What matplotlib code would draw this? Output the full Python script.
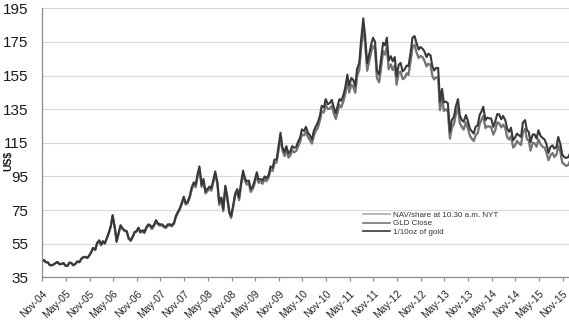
"""Gold (1/10 oz) against GLD NAV per share and GLD closing price, Nov 2004 - Jan 2016."""

import matplotlib

matplotlib.use("Agg")
import matplotlib.pyplot as plt
import pandas as pd

# Semi-monthly observations (1st and 15th of each month), US$.
FIRST_OBS, LAST_OBS = "2004-11-15", "2016-01-15"

GOLD_TENTH_OZ = [
    44.3, 45.3, 44.0,
    43.8, 42.3, 42.2, 42.8, 43.5, 44.1, 42.8, 43.0, 43.5, 42.0, 41.8, 43.8,
    43.5, 42.2, 43.0, 44.5, 44.0, 46.0, 47.0, 47.2, 46.5, 48.0, 50.0, 52.5,
    51.5, 55.5, 57.0, 54.5, 56.5, 55.3, 58.5, 61.5, 65.5, 72.0, 64.5, 56.5,
    61.5, 66.0, 64.0, 63.0, 62.5, 58.5, 57.0, 59.0, 62.0, 62.5, 64.5, 62.0,
    63.0, 62.0, 65.0, 66.5, 66.0, 64.5, 66.5, 69.0, 67.0, 66.5, 66.5, 65.5,
    65.0, 66.5, 66.5, 66.0, 67.5, 71.5, 74.0, 76.0, 79.5, 83.0, 79.0, 80.0,
    83.5, 88.5, 91.5, 90.0, 96.5, 101.0, 90.0, 93.5, 86.0, 87.5, 89.0, 88.0,
    93.0, 98.0, 91.5, 79.5, 82.5, 75.5, 89.5, 83.5, 74.0, 71.5, 78.0, 84.5,
    87.5, 82.5, 92.0, 98.5, 94.0, 92.0, 92.5, 87.5, 89.0, 92.5, 97.5, 93.0,
    93.5, 92.5, 95.0, 94.0, 96.0, 101.0, 100.0, 105.0, 105.0, 112.5, 121.0, 112.5,
    109.5, 113.0, 108.5, 110.0, 113.0, 112.0, 112.5, 115.5, 118.0, 123.0, 122.0, 124.5,
    121.0, 119.5, 117.0, 122.0, 125.0, 127.0, 131.0, 137.0, 136.0, 141.0, 138.0, 138.5,
    140.5, 136.5, 132.5, 137.0, 141.0, 140.0, 143.5, 148.0, 155.5, 149.0, 153.5, 152.5,
    148.5, 159.0, 162.5, 176.0, 189.0, 178.5, 162.5, 167.0, 173.5, 177.5, 175.0, 158.0,
    155.5, 164.0, 174.5, 173.0, 177.5, 164.0, 166.5, 163.5, 166.0, 154.5, 161.5, 162.5,
    157.5, 158.5, 161.0, 160.5, 169.0, 177.5, 178.5, 174.5, 170.5, 172.0, 171.0, 169.5,
    166.0, 168.0, 167.0, 160.5, 158.0, 159.5, 159.5, 139.5, 147.0, 139.0, 139.5, 138.5,
    121.5, 128.5, 130.5, 136.5, 141.0, 131.5, 128.5, 127.5, 131.5, 128.5, 123.5, 122.0,
    120.5, 124.5, 125.5, 131.5, 133.5, 136.5, 128.5, 130.0, 129.5, 129.5, 124.5, 127.5,
    132.0, 132.0, 129.0, 131.0, 128.5, 123.5, 121.5, 124.0, 116.5, 118.0, 120.5, 119.5,
    118.5, 127.0, 128.5, 122.5, 121.5, 115.5, 120.0, 120.0, 117.5, 122.5, 119.0, 118.0,
    117.0, 114.5, 109.0, 112.5, 113.5, 111.5, 112.5, 118.5, 114.0, 108.0, 106.5, 106.0,
    106.5, 109.0,
]

NAV_SHARE = [
    44.3, 45.3, 44.0,
    43.7, 42.2, 42.1, 42.7, 43.4, 44.0, 42.7, 42.9, 43.4, 41.9, 41.7, 43.7,
    43.4, 42.1, 42.9, 44.4, 43.9, 45.9, 46.9, 47.1, 46.4, 47.9, 49.9, 52.3,
    51.2, 55.1, 56.6, 54.1, 56.1, 54.9, 58.1, 61.1, 65.1, 71.5, 64.1, 56.1,
    61.1, 65.6, 63.6, 62.6, 62.1, 58.1, 56.6, 58.6, 61.6, 62.1, 64.1, 61.6,
    62.3, 61.3, 64.3, 65.8, 65.3, 63.8, 65.8, 68.3, 66.3, 65.8, 65.8, 64.8,
    64.3, 65.8, 65.8, 65.3, 66.8, 70.8, 73.2, 75.2, 78.7, 82.1, 78.2, 79.2,
    82.3, 87.2, 90.2, 88.7, 95.1, 99.5, 88.7, 92.1, 84.8, 86.2, 87.7, 86.7,
    91.7, 96.6, 90.2, 78.3, 81.3, 74.4, 88.2, 82.3, 72.9, 70.5, 76.9, 83.3,
    85.9, 81.0, 90.3, 96.7, 92.3, 90.3, 90.8, 85.9, 87.4, 90.8, 95.7, 91.3,
    91.8, 90.8, 93.2, 92.3, 94.2, 99.1, 98.1, 103.1, 103.1, 110.4, 118.8, 110.4,
    107.0, 110.5, 106.1, 107.5, 110.5, 109.5, 110.0, 112.9, 115.3, 120.2, 119.3, 121.7,
    118.3, 116.8, 114.4, 119.3, 122.2, 124.1, 128.1, 133.9, 132.9, 137.8, 134.9, 135.4,
    136.8, 132.9, 129.0, 133.4, 137.3, 136.3, 139.7, 144.1, 151.4, 145.1, 149.4, 148.5,
    144.6, 154.8, 158.2, 171.3, 184.0, 173.8, 158.2, 162.6, 168.9, 172.8, 170.4, 153.8,
    150.8, 159.0, 169.2, 167.7, 172.1, 159.0, 161.4, 158.5, 160.9, 149.8, 156.6, 157.5,
    152.7, 153.7, 156.1, 155.6, 163.8, 172.1, 173.1, 169.2, 165.3, 166.8, 165.8, 164.3,
    160.3, 162.2, 161.2, 155.0, 152.5, 154.0, 154.0, 134.7, 141.9, 134.2, 134.7, 133.7,
    117.3, 124.1, 126.0, 131.8, 136.1, 127.0, 124.1, 123.1, 127.0, 124.1, 119.2, 117.8,
    115.9, 119.7, 120.7, 126.4, 128.4, 131.2, 123.6, 125.0, 124.5, 124.5, 119.7, 122.6,
    126.9, 126.9, 124.0, 126.0, 123.6, 118.7, 116.8, 119.2, 112.0, 113.5, 115.9, 114.9,
    113.5, 121.6, 123.0, 117.3, 116.3, 110.6, 114.9, 114.9, 112.5, 117.3, 113.9, 113.0,
    112.0, 109.6, 104.4, 107.7, 108.7, 106.8, 107.7, 113.5, 109.2, 103.4, 102.0, 101.5,
    102.0, 104.4,
]

GLD_CLOSE = [
    44.4, 45.2, 44.1,
    43.8, 42.1, 42.2, 42.6, 43.5, 43.9, 42.8, 42.9, 43.3, 42.0, 41.8, 43.6,
    43.5, 42.1, 43.0, 44.3, 44.0, 45.8, 47.0, 47.0, 46.5, 47.8, 50.0, 52.2,
    51.3, 55.0, 56.8, 54.0, 56.2, 54.8, 58.2, 61.0, 65.3, 71.3, 64.3, 56.0,
    61.2, 65.5, 63.7, 62.5, 62.2, 58.0, 56.7, 58.5, 61.7, 62.0, 64.2, 61.5,
    62.4, 61.2, 64.5, 65.7, 65.4, 63.7, 65.9, 68.2, 66.4, 65.7, 65.9, 64.7,
    64.4, 65.7, 65.9, 65.2, 66.9, 70.6, 73.3, 75.0, 78.8, 81.9, 78.3, 79.1,
    82.5, 87.0, 90.4, 88.5, 95.3, 99.2, 88.9, 91.9, 85.0, 86.0, 87.9, 86.5,
    91.9, 96.3, 90.4, 78.0, 81.5, 74.2, 88.6, 82.0, 73.2, 70.2, 77.2, 83.0,
    86.1, 80.8, 90.5, 96.4, 92.5, 90.1, 91.0, 85.7, 87.6, 90.6, 95.9, 91.1,
    92.0, 90.6, 93.4, 92.1, 94.4, 98.8, 98.3, 102.8, 103.3, 110.1, 118.5, 110.7,
    107.2, 110.3, 106.3, 107.3, 110.7, 109.3, 110.2, 112.7, 115.5, 119.9, 119.5, 121.4,
    118.5, 116.6, 114.6, 119.1, 122.4, 123.8, 128.3, 133.6, 133.1, 137.5, 135.1, 135.2,
    137.0, 132.7, 129.2, 133.2, 137.5, 136.1, 139.9, 143.8, 151.7, 144.8, 149.6, 148.2,
    144.9, 154.5, 158.5, 170.8, 183.5, 174.2, 157.8, 162.9, 169.2, 172.5, 170.7, 153.5,
    151.1, 158.7, 169.5, 167.4, 172.4, 158.7, 161.7, 158.2, 161.2, 149.5, 156.9, 157.2,
    153.0, 153.4, 156.4, 155.3, 164.1, 171.8, 173.4, 168.9, 165.6, 166.5, 166.1, 164.0,
    160.6, 161.9, 161.5, 154.7, 152.8, 153.7, 154.3, 134.4, 142.2, 133.9, 135.0, 133.4,
    117.6, 123.8, 126.3, 131.5, 136.4, 126.7, 124.4, 122.8, 127.3, 123.8, 119.5, 117.5,
    116.2, 119.4, 121.0, 126.1, 128.7, 130.9, 123.9, 124.7, 124.8, 124.2, 120.0, 122.3,
    127.2, 126.6, 124.3, 125.7, 123.9, 118.4, 117.1, 118.9, 112.3, 113.2, 116.2, 114.6,
    113.8, 121.3, 123.3, 117.0, 116.6, 110.3, 115.2, 114.6, 112.8, 117.0, 114.2, 112.7,
    112.3, 109.3, 104.7, 107.4, 109.0, 106.5, 108.0, 113.2, 109.5, 103.1, 102.3, 101.2,
    101.8, 104.6,
]

SERIES_LABELS = ["NAV/share at 10.30 a.m. NYT", "GLD Close", "1/10oz of gold"]
SERIES_COLOURS = ["#aaaaaa", "#757575", "#383838"]
Y_TICKS = list(range(35, 196, 20))


def main() -> None:
    plt.rcParams["font.family"] = ["Liberation Sans", "DejaVu Sans"]

    dates = pd.date_range(FIRST_OBS, LAST_OBS, freq="SMS").to_pydatetime()
    for values in (GOLD_TENTH_OZ, NAV_SHARE, GLD_CLOSE):
        assert len(values) == len(dates), (len(values), len(dates))

    fig = plt.figure(figsize=(5.69, 3.22), dpi=100)
    ax = fig.add_axes([0.0743, 0.1388, 0.9257, 0.8354])

    handles = []
    for values, label, colour in zip((NAV_SHARE, GLD_CLOSE, GOLD_TENTH_OZ),
                                     SERIES_LABELS, SERIES_COLOURS):
        (line,) = ax.plot(dates, values, color=colour, linewidth=1.5, label=label)
        handles.append(line)

    ax.set_ylim(35, 195)
    ax.set_yticks(Y_TICKS)
    ax.tick_params(axis="y", length=0, pad=10, labelsize=11, labelcolor="#1a1a1a")

    # Six-monthly ticks counted from the first trading day.
    ticks = pd.date_range("2004-11-18", periods=23, freq=pd.DateOffset(months=6))
    ax.set_xlim(pd.Timestamp("2004-11-18"), pd.Timestamp("2016-01-06"))
    ax.set_xticks(ticks.to_pydatetime())
    ax.set_xticklabels([t.strftime("%b-%y") for t in ticks], rotation=45,
                       ha="right", va="top", rotation_mode="anchor")
    ax.tick_params(axis="x", length=3, width=0.9, color="#8c8c8c", pad=5,
                   labelsize=7.5, labelcolor="#262626")

    ax.grid(axis="y", color="#d9d9d9", linewidth=0.8)
    ax.set_axisbelow(True)
    for side in ("top", "right"):
        ax.spines[side].set_visible(False)
    for side in ("left", "bottom"):
        ax.spines[side].set_color("#8c8c8c")
        ax.spines[side].set_linewidth(0.9)

    ax.set_ylabel("US$", fontsize=7.5, fontweight="bold", color="#1a1a1a")
    ax.yaxis.set_label_coords(-0.055, 0.432)

    leg = ax.legend(handles=handles, loc="upper left", bbox_to_anchor=(0.6374, 0.3435),
                    bbox_transform=fig.transFigure, frameon=False, fontsize=5.8,
                    borderpad=0, borderaxespad=0, handlelength=3.4, handletextpad=0.35,
                    labelspacing=0.1, labelcolor="#333333")
    for handle in leg.legend_handles:
        handle.set_linewidth(1.2)

    fig.savefig("out.png", dpi=100)
    plt.close(fig)


if __name__ == "__main__":
    main()
